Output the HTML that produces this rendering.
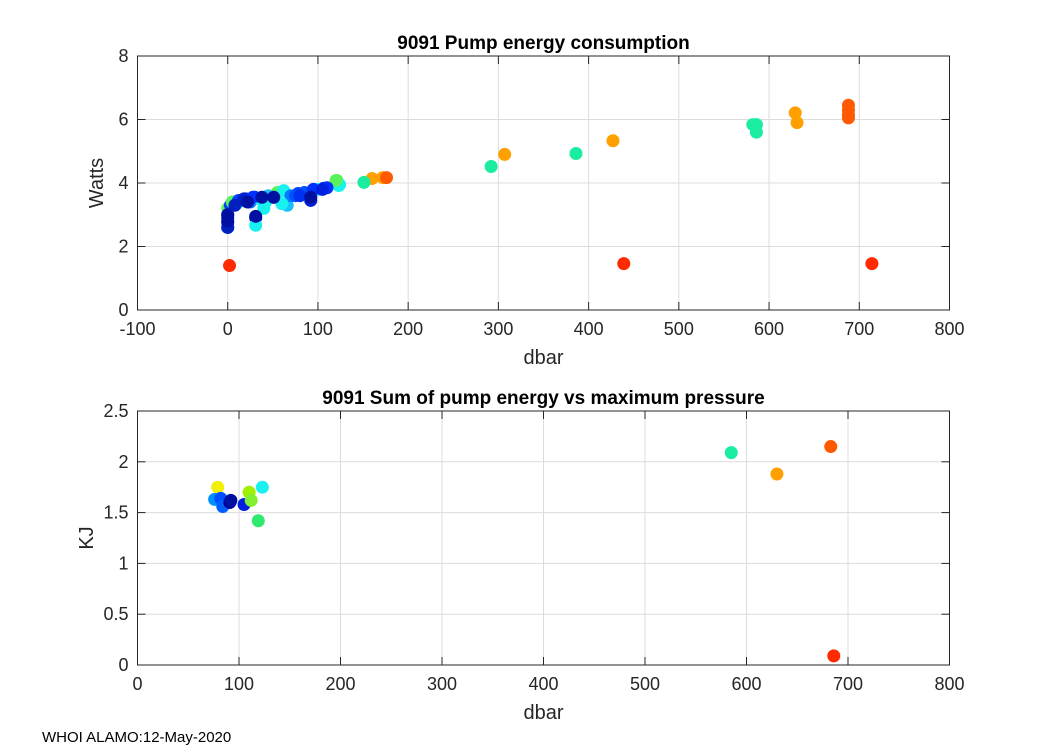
<!DOCTYPE html>
<html><head><meta charset="utf-8"><style>
body{margin:0;background:#fff;}
svg{display:block;font-family:"Liberation Sans",Arial,sans-serif;}
</style></head><body>
<svg id="fig" width="1050" height="750" viewBox="0 0 1050 750">
<text x="42" y="742" font-size="15" fill="#000">WHOI ALAMO:12-May-2020</text>
</svg>
<script>
// Top chart data: pressure (dbar), power (Watts), colour
const p1X=[2,439,714,292,307,386,427,582,586,586,629,631,688,688,688,688,160,172,176,151,121,124,
0,0,0,0,3,31,31,5,10,15,20,25,30,35,45,51,78,92,92,106,123,120,66,40,55,62,70,85,100,110,12,18,28,42,60,75,95,
0,0,0,0,8,22,31,38,51,80,92,105];
const p1Y=[1.4,1.46,1.46,4.52,4.9,4.93,5.33,5.84,5.84,5.6,6.21,5.9,6.45,6.3,6.15,6.05,4.14,4.17,4.17,4.02,4.08,3.95,
3.2,2.6,2.75,3.0,3.3,2.9,2.67,3.4,3.35,3.45,3.5,3.4,3.55,3.5,3.6,3.55,3.67,3.67,3.45,3.83,3.92,4.08,3.3,3.2,3.7,3.76,3.6,3.7,3.8,3.85,3.45,3.5,3.55,3.4,3.35,3.6,3.8,
2.6,2.8,2.9,3.0,3.3,3.4,2.95,3.55,3.55,3.6,3.55,3.8];
const p1C=['#ff2a00','#ff2a00','#ff2a00','#1aeda0','#ffa000','#1aeda0','#ffa000','#1aeda0','#1aeda0','#1aeda0','#ffa000','#ffa000','#ff5a00','#ff5a00','#ff5a00','#ff5a00','#ffa000','#ffa000','#ff5a00','#1aeda0','#5af25a','#19f0f0',
'#5af25a','#0060ff','#0040ff','#0020e0','#0040ff','#0010c0','#19f0f0','#5af25a','#19e0f0','#0070ff','#0030f0','#0080ff','#0030e0','#19f0f0','#19c0ff','#0010b0','#0040ff','#0010b0','#0020d0','#0020ff','#19f0f0','#5af25a','#19c0ff','#19f0f0','#5af25a','#19f0f0','#0080ff','#0050ff','#19f0f0','#0030ff','#0040ff','#0020d0','#0030ff','#19f0f0','#19f0f0','#0050ff','#0030ff',
'#0020c0','#0010a0','#0010a0','#0010a0','#0020c0','#0010a0','#0010a0','#0010a0','#0010a0','#0030f0','#0010a0','#0020e0'];
// Bottom chart data: max pressure vs summed energy (KJ)
const p2X=[79,76,82,84,91,92,105,110,112,119,123,585,630,683,686];
const p2Y=[1.75,1.63,1.64,1.56,1.6,1.62,1.58,1.7,1.62,1.42,1.75,2.09,1.88,2.15,0.09];
const p2C=['#f0f000','#0090ff','#0050ff','#0060ff','#0000a0','#0010a0','#0020e0','#a0f000','#80f030','#30ea70','#19f0f0','#1aeda0','#ffa000','#ff5a00','#ff2a00'];
const p1XTicks=[-100,0,100,200,300,400,500,600,700,800];
const p1YTicks=[0,2,4,6,8];
const p2XTicks=[0,100,200,300,400,500,600,700,800];
const p2YTicks=[0,0.5,1,1.5,2,2.5];

const NS='http://www.w3.org/2000/svg';
const svg=document.getElementById('fig');
function mk(tag,attrs,parent){const e=document.createElementNS(NS,tag);for(const k in attrs)e.setAttribute(k,attrs[k]);(parent||svg).appendChild(e);return e;}

function panel(o){
  const g=mk('g',{});
  
  
  const L=137.5,R=949.5,T=o.top,B=o.top+254;
  const sx=v=>L+(v-o.xmin)/(o.xmax-o.xmin)*(R-L);
  const sy=v=>B-(v-o.ymin)/(o.ymax-o.ymin)*(B-T);
  mk('rect',{x:L,y:T,width:R-L,height:B-T,fill:'#fff'},g);
  o.xt.forEach(t=>{const x=sx(t);
    const gl=mk('line',{x1:x,x2:x,y1:T,y2:B,stroke:'#dcdcdc','stroke-width':1},g);
    
    mk('line',{x1:x,x2:x,y1:B,y2:B-8,stroke:'#262626'},g);mk('line',{x1:x,x2:x,y1:T,y2:T+8,stroke:'#262626'},g);
    const tx=mk('text',{x:x,y:B+25,'text-anchor':'middle','font-size':18,fill:'#262626'},g);tx.textContent=t;
    });
  o.yt.forEach(t=>{const y=sy(t);
    const gl=mk('line',{x1:L,x2:R,y1:y,y2:y,stroke:'#dcdcdc','stroke-width':1},g);
    
    mk('line',{x1:L,x2:L+8,y1:y,y2:y,stroke:'#262626'},g);mk('line',{x1:R,x2:R-8,y1:y,y2:y,stroke:'#262626'},g);
    const tx=mk('text',{x:L-9,y:y+6,'text-anchor':'end','font-size':18,fill:'#262626'},g);tx.textContent=t;
    });
  for(let i=0;i<o.X.length;i++){
    const c=mk('circle',{cx:sx(o.X[i]),cy:sy(o.Y[i]),r:6.5,fill:o.C[i]},g);
    
    
  }
  const bx=mk('rect',{x:L,y:T,width:R-L,height:B-T,fill:'none',stroke:'#262626','stroke-width':1},g);
  
  const ti=mk('text',{x:(L+R)/2,y:T-7,'text-anchor':'middle','font-size':19,'font-weight':'bold',fill:'#000'},g);ti.textContent=o.title;
  
  const xl=mk('text',{x:(L+R)/2,y:B+54,'text-anchor':'middle','font-size':20,fill:'#262626'},g);xl.textContent='dbar';
  
  const yx=o.ylx,yy=(T+B)/2;
  const yl=mk('text',{x:yx,y:yy,'text-anchor':'middle','font-size':20,fill:'#262626',transform:`rotate(-90 ${yx} ${yy})`},g);yl.textContent=o.ylab;
  
}
panel({name:'pump-energy-chart',top:56,xmin:-100,xmax:800,ymin:0,ymax:8,xt:p1XTicks,yt:p1YTicks,X:p1X,Y:p1Y,C:p1C,title:'9091 Pump energy consumption',ylab:'Watts',ylx:103});
panel({name:'energy-sum-chart',top:411,xmin:0,xmax:800,ymin:0,ymax:2.5,xt:p2XTicks,yt:p2YTicks,X:p2X,Y:p2Y,C:p2C,title:'9091 Sum of pump energy vs maximum pressure',ylab:'KJ',ylx:93});
</script>
</body></html>
